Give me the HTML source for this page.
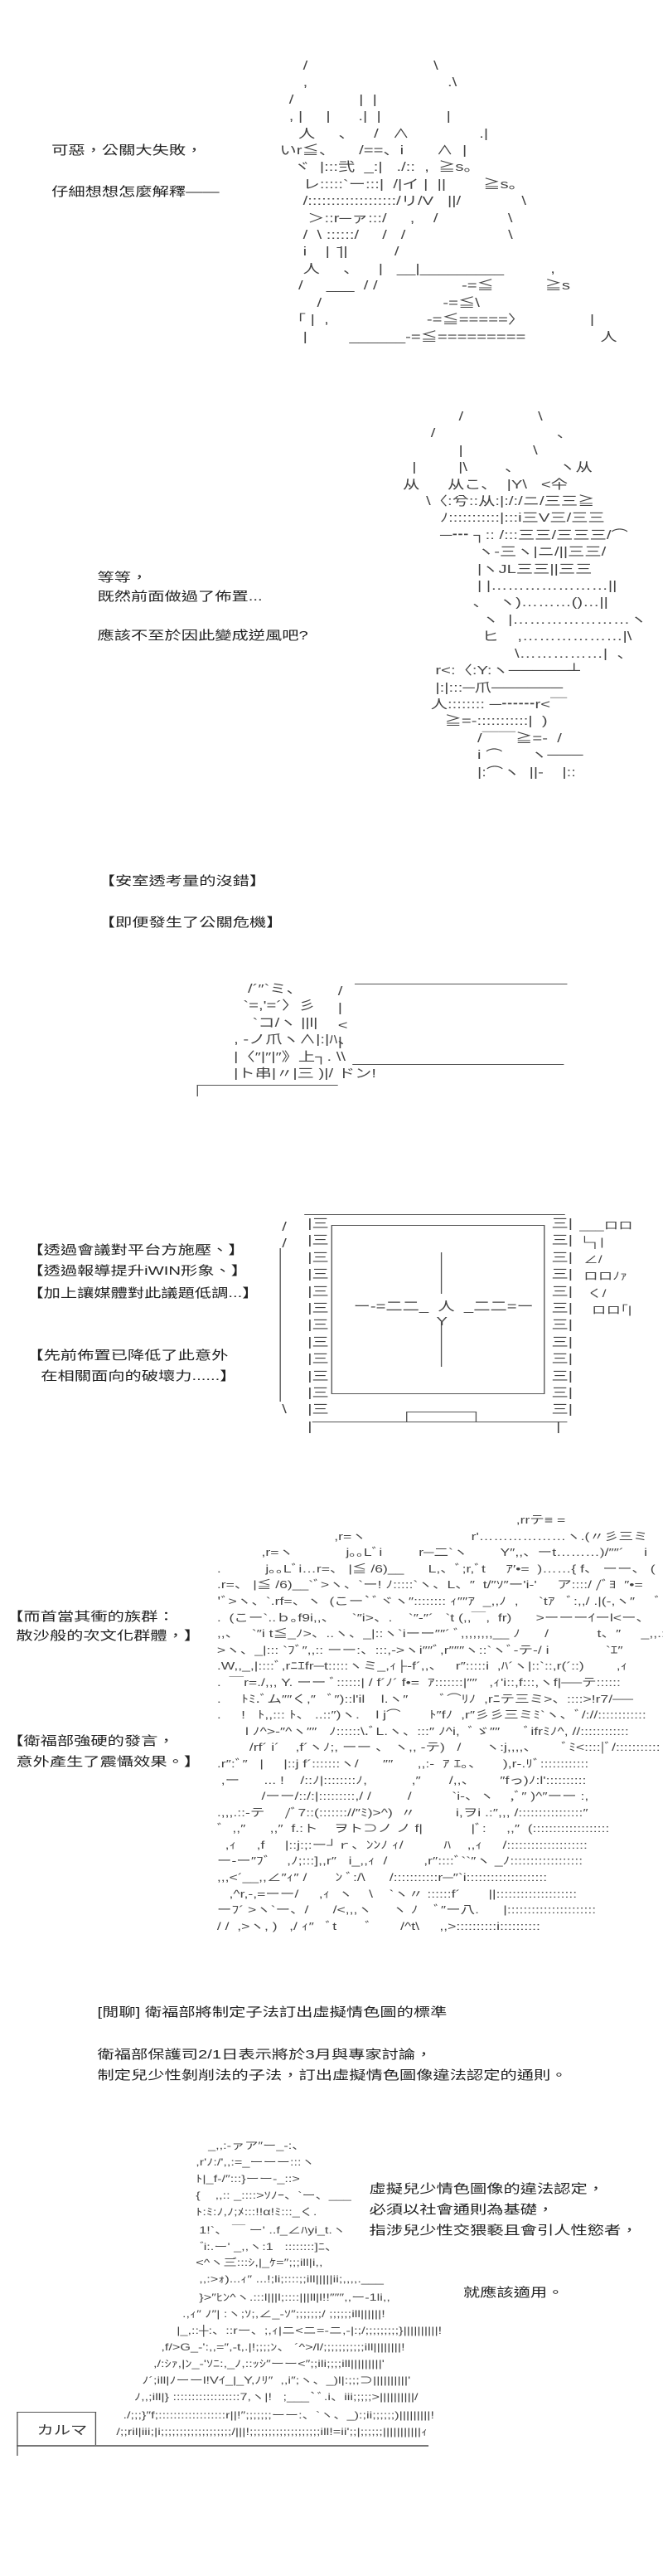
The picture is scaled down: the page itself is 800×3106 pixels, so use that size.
<!DOCTYPE html>
<html><head><meta charset="utf-8"><style>
html,body{margin:0;padding:0;background:#fff;}
body{width:800px;height:3106px;overflow:hidden;position:relative;}
#w{position:absolute;left:0;top:0;width:593px;height:3106px;transform:scaleX(1.35);transform-origin:0 0;}
.t{position:absolute;font-family:"Liberation Sans","Noto Sans CJK TC",sans-serif;font-size:15px;line-height:20px;color:#222;white-space:pre;}
.a{position:absolute;font-family:"Liberation Sans","Noto Sans CJK JP",sans-serif;font-size:15px;line-height:20.4px;color:#444;white-space:pre;margin:0;}
.s{font-size:13px;line-height:20.4px;}
.r{position:absolute;font-family:"Liberation Sans","Noto Sans CJK JP",sans-serif;font-size:12px;line-height:20px;color:#444;white-space:pre;}
.l{position:absolute;background:#555;}
</style></head><body><div id="w">

<!-- Section 1 -->
<div class="t" style="left:46px;top:172px">可惡，公關大失敗，</div>
<div class="t" style="left:46px;top:222px">仔細想想怎麼解釋——</div>
<pre class="a" style="left:250px;top:70px">     /                           \
     ,                              .\
  /              |  |
  , |     |      .|  |              |
    人     、    /   ∧               .|
いr≦、     /==、i       ∧  |
   ヾ  |:::弐  _:|   ./::  ,  ≧s。
     レ:::::`ー:::|  /|イ |  ||        ≧s。
     /:::::::::::::::::::/リ/V   ||/             \
      ＞::r─ァ:::/     ,    /               \
     /  \ ::::::/     /   /                      \
     i    |  ̄||          /
     人     、    |   __|_________          ,
    /     ___  / /                  -=≦           ≧s
        /                          -=≦\
  「 |  ,                     -=≦=====〉              |
     |         ______-=≦=========                人</pre>

<!-- Section 2 -->
<div class="t" style="left:87px;top:687px">等等，</div>
<div class="t" style="left:87px;top:710px">既然前面做過了佈置...</div>
<div class="t" style="left:87px;top:757px">應該不至於因此變成逆風吧?</div>
<pre class="a" style="left:360px;top:493px">            /                \
      /                          、
            |               \
  |         |\        、        ヽ从
从      从こ、  |Y\   &lt;仐
     \〈:兮::从:|:/:/ニ/三三≧
        ﾉ:::::::::::|:::i三V三/三三
        ─┅ ┐:: /:::三三/三三三/⌒
                ヽ-三ヽ|ニ/||三三/
                |ヽJL三三||三三
                | |…………………||
               、  ヽ)………()…||
                 ヽ  |…………………ヽ
                 ヒ    ,………………|\
                        \……………|  、
       r&lt;:〈:Y:ヽ─────┴
       |:|:::─爪──────
      人:::::::: ─┅┅r&lt;￣
         ≧=-:::::::::::|  )
                /￣￣≧=-  /
                i ⌒      ヽ───
                |:⌒ヽ  ||-    |::</pre>

<!-- Section 3 -->
<div class="t" style="left:88px;top:1053px">【安室透考量的沒錯】</div>
<div class="t" style="left:88px;top:1103px">【即便發生了公關危機】</div>
<div class="l" style="left:317px;top:1186px;width:190px;height:1px"></div>
<pre class="a" style="left:302px;top:1186px">/
|
&lt;
|</pre>
<div class="l" style="left:315px;top:1283px;width:189px;height:1px"></div>
<pre class="a" style="left:209px;top:1183px">   /´″`ミ、
  `=,'=´〉彡
    `コ/ヽ ||l|
, -ノ爪ヽ∧|:|ﾊ、
|〈″|″|″》上┐. \\
|ト串|〃|三 )|/ ドン!</pre>
<div class="l" style="left:176px;top:1308px;width:126px;height:1px"></div>
<div class="l" style="left:176px;top:1308px;width:1px;height:14px"></div>

<!-- Section 4 monitor -->
<div class="t" style="left:24px;top:1498px">【透過會議對平台方施壓、】</div>
<div class="t" style="left:24px;top:1523px">【透過報導提升iWIN形象、】</div>
<div class="t" style="left:24px;top:1550px">【加上讓媒體對此議題低調...】</div>
<div class="t" style="left:24px;top:1625px">【先前佈置已降低了此意外</div>
<div class="t" style="left:24px;top:1650px">   在相關面向的破壞力......】</div>
<div class="l" style="left:272px;top:1464px;width:233px;height:1px"></div>
<div class="l" style="left:279px;top:1714px;width:228px;height:1px"></div>
<div style="position:absolute;left:296px;top:1477px;width:189px;height:202px;border:1px solid #555"></div>
<pre class="a" style="left:275px;top:1466px">|三
|三
|三
|三
|三
|三
|三
|三
|三
|三
|三
|三
|</pre>
<pre class="a" style="left:493px;top:1466px">三|
三|
三|
三|
三|
三|
三|
三|
三|
三|
三|
三|
 |</pre>
<div class="l" style="left:250px;top:1505px;width:1px;height:185px"></div>
<pre class="a" style="left:252px;top:1470px">/
/</pre>
<pre class="a" style="left:252px;top:1690px">\</pre>
<div style="position:absolute;left:363px;top:1702px;width:61px;height:12px;border:1px solid #555;border-bottom:none"></div>
<div class="l" style="left:394px;top:1510px;width:1px;height:50px"></div>
<div class="l" style="left:394px;top:1594px;width:1px;height:54px"></div>
<pre class="a" style="left:316px;top:1566px">ー-=二二_  人  _二二=ー</pre>
<pre class="a" style="left:390px;top:1584px">Y</pre>
<pre class="a s" style="left:518px;top:1468px">___ロロ
└┐|
 ∠/
 ロロﾉｧ
  く/
   ロロ｢|</pre>

<!-- Section 5 crowd -->
<div class="t" style="left:6px;top:1940px">【而首當其衝的族群：</div>
<div class="t" style="left:6px;top:1963px">  散沙般的次文化群體，】</div>
<div class="t" style="left:6px;top:2090px">【衛福部強硬的發言，</div>
<div class="t" style="left:6px;top:2115px">  意外產生了震懾效果。】</div>
<pre class="a s" style="left:194px;top:1823px;line-height:19.6px;width:399px;overflow:hidden">                                                                          ,rrテ≡ =
                             ,r=ヽ                          r'………………ヽ.(〃彡三ミ
           ,r=ヽ             j｡｡Lﾞi         r─二`ヽ        Y″,,、ーt………)/″″´     i
.           j｡｡Lﾞi…r=、 |≦ /6)__      L,、ﾞ;r,ﾞt     ｱ′•=  )……{ f、 ーー、 (
.r=、 |≦ /6)__`ﾞ&gt;ヽ、`ー! ﾉ:::::`ヽ、L、″  t/″ｿ″ー'i-'     ア::::/ /ﾞﾖ  ″•=
'ﾞ&gt;ヽ、`.rf=、ヽ  (こー`ﾞヾヽ″:::::::: ｨ″″ｱ  _,,ﾉ  ,     `tｱ   ﾞ:,,/ .|(-,ヽ″     ﾞ
.  (こー`..ｂ｡f9i,,、    `″i&gt;、.    `″‐″´   `t (,,￣,  fr)      &gt;ーーーｲーl&lt;ー、
,,、   `″i t≦_ﾉ&gt;、..ヽ、_|::ヽ`iーー″″´ ﾞ,,,,,,,,__ ﾉ      /            t、″     _,,.::″
&gt;ヽ、_|::: `ﾌﾞ″,,:: ーー:、:::,-&gt;ヽi″″ﾞ,r″″″ヽ::`ヽﾞ-テ-/ i              `ｴ″
.W,,_,|::::ﾞ,rﾆｴfr─t:::::ヽミ_,ｨ├-f´,,、   r″:::::i  ,ﾊ´ヽ|::`::,r(´::)        ,ｨ
.  ￣r=./,,, Y. ーー ﾞ::::::| / f´ﾉ´ f•=  ｱ:::::::|″″   ,ｨ'i::,f:::,ヽf|──テ::::::
.     ﾄﾐ.ﾞム″″く,″   ﾞ″)::l'il    l.ヽ″        ﾞ⌒ﾘﾉ  ,rﾆテ三ミ&gt;、::::&gt;!r7/──
.     !   ﾄ,,::: ﾄ、 ..::″)ヽ.    l j⌒       ﾄ″fﾉ  ,r″彡彡三ミﾐ`ヽ、ﾞ/://::::::::::::
       l ﾉ^&gt;-″^ヽ″″   ﾉ::::::\.ﾞL.ヽ、:::″ ﾉ^i,  ﾞゞ″″      ﾞifrﾐﾉ^, //::::::::::::
        /rf´ i´    ,f´ヽﾉ;, ーー 、 ヽ,, -テ)   /      ヽ:j,,,,、      ﾞﾐ&lt;::::|ﾞ/:::::::::::
.r″:ﾞ″   |     |::j f´:::::::ヽ/      ″″      ,,:-  ｱ ｴ｡、     ),r-.ﾘﾞ::::::::::::
 ,ー      ... !    /::ﾉ|::::::::ﾉ,           ,″       /,,、      ″fっ)ﾉ:l'::::::::::
           /ーー/::/:|:::::::::,/ /         /          `i-、ヽ    ,ﾞ″ )^″ーー :,
.,,,.::-テ     /ﾞ7::(::::::://″ﾐ)&gt;^)  〃          i,ヲi .:″,,, /::::::::::::::::″
ﾞ  ,,″      ,,″  f.:ト    ヲト⊃ノ ノ f|            |ﾞ:     ,,″  (:::::::::::::::::::
  ,ｨ     ,f     |::j:;:ー┘ｒ、ﾝﾝﾉ ｨ/          ﾊ    ,,ｨ     /::::::::::::::::::::
ー-ー″ﾌﾞ    ,ﾉ;:::],,r″   i_,,ｨ  /         ,r″::::ﾞ``″ヽ _ﾉ::::::::::::::::::
,,,&lt;´__,,∠″ｨ″ /       ﾝ ﾞ:/\      /:::::::::::r─″`i::::::::::::::::::::
   ,^r,-,=ーー/     ,ｨ  ヽ    \    `ヽ〃 ::::::f´       ||::::::::::::::::::::
ーﾌ´ &gt;ヽ`ー、/      /&lt;,,,ヽ     ヽ ﾉ    ﾞ″ー八.      |::::::::::::::::::::::
/ /  ,&gt;ヽ, )   ,/ ｨ″   ﾞt       ﾞ       /^t\     ,,&gt;::::::::::i::::::::::</pre>

<!-- Section 6 -->
<div class="t" style="left:87px;top:2417px">[閒聊] 衛福部將制定子法訂出虛擬情色圖的標準</div>
<div class="t" style="left:87px;top:2468px">衛福部保護司2/1日表示將於3月與專家討論，</div>
<div class="t" style="left:87px;top:2493px">制定兒少性剝削法的子法，訂出虛擬情色圖像違法認定的通則。</div>

<!-- Section 7 -->
<div class="t" style="left:330px;top:2630px">虛擬兒少情色圖像的違法認定，</div>
<div class="t" style="left:330px;top:2655px">必須以社會通則為基礎，</div>
<div class="t" style="left:330px;top:2680px">指涉兒少性交猥褻且會引人性慾者，</div>
<div class="t" style="left:414px;top:2755px">就應該適用。</div>

<div class="r" style="left:186px;top:2577px">_,,:-ァア″ー_-:、</div>
<div class="r" style="left:175px;top:2597px">,r'ﾉ:/',,:=_ーーー:::ヽ</div>
<div class="r" style="left:175px;top:2617px">ﾄ|_f-/″:::}ーー-_::&gt;</div>
<div class="r" style="left:175px;top:2637px">{    ,,:: _::::&gt;ｿﾉｰ、`ー、___</div>
<div class="r" style="left:175px;top:2657px">ﾄ:ﾐ:ﾉ,ﾉ;ﾒ:::!!α!ﾐ:::_く.</div>
<div class="r" style="left:178px;top:2679px">1!`、 ￣ ー' ..f_∠ﾊyi_t.ヽ</div>
<div class="r" style="left:182px;top:2699px">゙i:.ー' _,,ヽ:1   ::::::::]ﾆ、</div>
<div class="r" style="left:175px;top:2718px">&lt;^ヽ三゙:::ｼ,|_ｹ=″;;;ill|i,,</div>
<div class="r" style="left:178px;top:2738px">,,:&gt;ｫ)...ｨ″ ...!;li;::::;;ill|||||ii;,,,,.___</div>
<div class="r" style="left:178px;top:2760px">}&gt;″ﾋﾝ^ヽ.:::l|||l;::::|||ll|l!!″″″,,ー-1li,,</div>
<div class="r" style="left:163px;top:2780px">.,ｨ″ ﾉ″| :ヽ;ｿ;,∠_-ｿ″;;;;;;;/ ;;;;;;ill||||||!</div>
<div class="r" style="left:158px;top:2800px">|_,::┼:、::rー、;,ｨ|ニ&lt;ニ=-ニ,-|:;/;;;;;;;;;}||||||||||!</div>
<div class="r" style="left:144px;top:2820px">,f/&gt;G_-':,,=″,-t,.|!;;;;ﾝ、 ´^&gt;/l/;;;;;;;;;;;ill||||||||!</div>
<div class="r" style="left:137px;top:2840px">,/:ｼｧ,|ﾝ_-'ｿﾆ:,_ﾉ,::ｯｼ″ーー&lt;″;;ili;;;;ill|||||||||'</div>
<div class="r" style="left:127px;top:2860px">ﾉ´;ill|ﾉーーl!Vｲ_|_Y,ﾉﾘ″  ,,i″;ヽ、_)l|:;;;⊃||||||||||'</div>
<div class="r" style="left:120px;top:2880px">ﾉ,,;ill|} ::::::::::::::::::7,ヽ|!   ;___`ﾞ.i、iii;;;;;&gt;||||||||||/</div>
<div class="r" style="left:110px;top:2902px">./;;;}″f;::::::::::::::::::r||!″;;;;;;;ーー:、`ヽ、_):;ii;;;;;;)|||||||||!</div>
<div class="r" style="left:104px;top:2922px">/;;ril|iii;|i;;;;;;;;;;;;;;;;;;;/|||!;;;;;;;;;;;;;;;;;;;ill!=ii';;|;;;;;;|||||||||||ｨ</div>

<div style="position:absolute;left:15px;top:2908px;width:69px;height:40px;border:1px solid #555;border-bottom:none"></div>
<div class="t" style="left:33px;top:2921px;color:#333">カルマ</div>
<div class="l" style="left:15px;top:2948px;width:368px;height:2px;background:#777"></div>
<div class="l" style="left:15px;top:2948px;width:1px;height:13px"></div>

</div></body></html>
